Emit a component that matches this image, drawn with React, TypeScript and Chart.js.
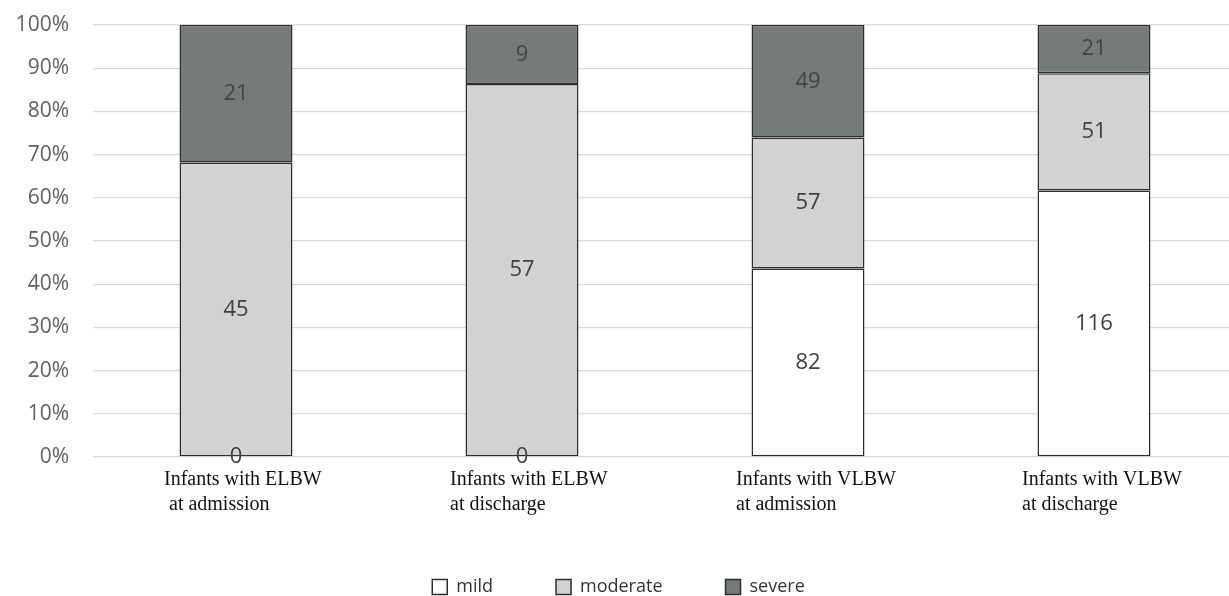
import React, { useEffect, useRef } from 'react';
import { Chart, ChartConfiguration, Plugin, registerables } from 'chart.js';

Chart.register(...registerables);

const categories: string[][] = [
  ['Infants with ELBW', ' at admission'],
  ['Infants with ELBW', 'at discharge'],
  ['Infants with VLBW', 'at admission'],
  ['Infants with VLBW', 'at discharge'],
];

const seriesNames = ['mild', 'moderate', 'severe'];

// counts per category
const mildCounts = [0, 0, 82, 116];
const moderateCounts = [45, 57, 57, 51];
const severeCounts = [21, 9, 49, 21];

const seriesCounts = [mildCounts, moderateCounts, severeCounts];
const seriesColors = ['#ffffff', '#d1d2d1', '#757b7b'];
const labelColors = ['#404040', '#404040', '#3d4747'];

const totals = categories.map((_, i) => seriesCounts.reduce((s, arr) => s + arr[i], 0));
const toPercent = (arr: number[]) => arr.map((v, i) => (v / totals[i]) * 100);

// draws the count in the middle of each stacked segment
const countLabels: Plugin<'bar'> = {
  id: 'countLabels',
  afterDatasetsDraw(chart) {
    const { ctx } = chart;
    ctx.save();
    ctx.font = '22px "Open Sans"';
    ctx.textAlign = 'center';
    ctx.textBaseline = 'middle';
    chart.data.datasets.forEach((_ds, di) => {
      const meta = chart.getDatasetMeta(di);
      meta.data.forEach((el: any, i) => {
        ctx.fillStyle = labelColors[di];
        ctx.fillText(String(seriesCounts[di][i]), el.x, (el.y + el.base) / 2);
      });
    });
    ctx.restore();
  },
};

// category labels, left aligned in two lines under each bar
const categoryLabels: Plugin<'bar'> = {
  id: 'categoryLabels',
  afterDraw(chart) {
    const { ctx } = chart;
    const xScale = chart.scales.x;
    ctx.save();
    ctx.font = '20px "Liberation Serif"';
    ctx.fillStyle = '#111111';
    ctx.textAlign = 'left';
    ctx.textBaseline = 'middle';
    categories.forEach((lines, i) => {
      const x = xScale.getPixelForTick(i) - 72;
      lines.forEach((line, k) => {
        ctx.fillText(line, x, xScale.top + 23 + k * 25);
      });
    });
    ctx.restore();
  },
};

const App: React.FC = () => {
  const chartRef = useRef<HTMLCanvasElement>(null);
  const chartInstanceRef = useRef<Chart | null>(null);

  useEffect(() => {
    document.body.style.overflow = 'hidden';
    if (!chartRef.current) return;

    if (chartInstanceRef.current) {
      chartInstanceRef.current.destroy();
    }

    const ctx = chartRef.current.getContext('2d');
    if (!ctx) return;

    const config: ChartConfiguration<'bar'> = {
      type: 'bar',
      data: {
        labels: categories,
        datasets: seriesNames.map((name, i) => ({
          label: name,
          data: toPercent(seriesCounts[i]),
          backgroundColor: seriesColors[i],
          borderColor: '#2e2e2e',
          borderWidth: 1.5,
          borderSkipped: false,
          barPercentage: 0.395,
          categoryPercentage: 1,
        })),
      },
      options: {
        responsive: true,
        maintainAspectRatio: false,
        animation: false,
        layout: {
          padding: { top: 25, right: 3, left: 0, bottom: 0 },
        },
        plugins: {
          title: { display: false },
          tooltip: { enabled: false },
          legend: {
            display: true,
            position: 'bottom',
            labels: {
              boxWidth: 15,
              boxHeight: 15,
              padding: 63,
              color: '#333333',
              font: { family: '"Open Sans"', size: 18, lineHeight: 1 },
            },
          },
        },
        scales: {
          x: {
            stacked: true,
            grid: { display: false },
            border: { display: false },
            ticks: { display: false },
            afterFit: (scale) => {
              scale.height = 58;
              scale.paddingLeft = 0;
              scale.paddingRight = 0;
            },
          },
          y: {
            stacked: true,
            min: 0,
            max: 100,
            grid: {
              color: '#d9d9d9',
              lineWidth: 1.3,
              drawTicks: false,
            },
            border: { display: false },
            ticks: {
              stepSize: 10,
              padding: 24,
              color: '#5d6262',
              font: { family: '"Open Sans"', size: 21 },
              callback: (v) => `${v}%`,
            },
            afterFit: (scale) => {
              scale.width = 93;
              scale.paddingTop = 0;
              scale.paddingBottom = 0;
            },
          },
        },
      },
      plugins: [countLabels, categoryLabels],
    };

    chartInstanceRef.current = new Chart(ctx, config);

    return () => {
      if (chartInstanceRef.current) {
        chartInstanceRef.current.destroy();
        chartInstanceRef.current = null;
      }
    };
  }, []);

  return (
    <div style={{ position: 'fixed', left: 0, top: 0, width: 1240, height: 606, background: '#fff' }}>
      <canvas ref={chartRef} />
    </div>
  );
};

export default App;
